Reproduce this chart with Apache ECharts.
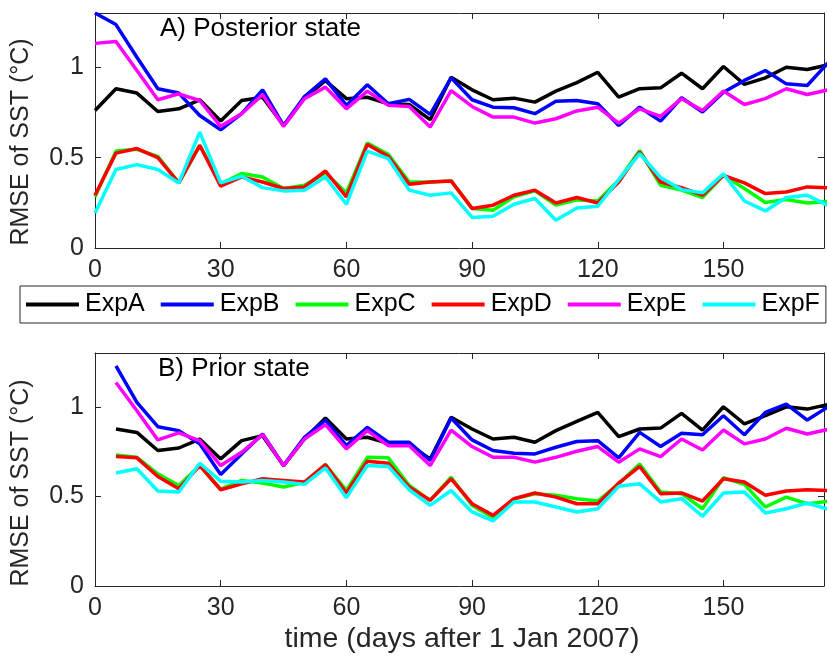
<!DOCTYPE html>
<html>
<head>
<meta charset="utf-8">
<script src="https://cdn.jsdelivr.net/npm/echarts@6/dist/echarts.min.js"></script>
<style>html,body{margin:0;padding:0;background:#fff;}#c{width:827px;height:657px;}</style>
</head>
<body>
<div id="c"></div>
<script>
var seriesNames = ['ExpA','ExpB','ExpC','ExpD','ExpE','ExpF'];
var seriesColors = ['#000000','#0000ff','#00ff00','#ff0000','#ff00ff','#00ffff'];
var xTicks = [0, 30, 60, 90, 120, 150];
var yTicks = [0, 0.5, 1];

// Panel A: posterior state
var daysA = [0,5,10,15,20,25,30,35,40,45,50,55,60,65,70,75,80,85,90,95,100,105,110,115,120,125,130,135,140,145,150,155,160,165,170,175];
var postA = [0.761,0.881,0.857,0.755,0.770,0.820,0.702,0.816,0.834,0.678,0.830,0.926,0.826,0.834,0.798,0.794,0.710,0.945,0.875,0.820,0.829,0.807,0.868,0.915,0.972,0.834,0.881,0.886,0.967,0.881,1.004,0.905,0.941,1.000,0.987,1.013];
var postB = [1.300,1.236,1.055,0.881,0.857,0.733,0.654,0.743,0.875,0.678,0.838,0.936,0.789,0.903,0.798,0.822,0.739,0.941,0.820,0.779,0.776,0.743,0.812,0.816,0.798,0.678,0.779,0.702,0.831,0.752,0.862,0.927,0.982,0.908,0.899,1.025];
var postC = [0.283,0.536,0.546,0.507,0.360,0.568,0.355,0.412,0.393,0.329,0.347,0.415,0.305,0.581,0.518,0.365,0.365,0.371,0.219,0.209,0.283,0.316,0.237,0.266,0.260,0.375,0.540,0.347,0.320,0.279,0.402,0.329,0.252,0.268,0.249,0.257];
var postD = [0.292,0.525,0.550,0.500,0.360,0.568,0.342,0.393,0.365,0.329,0.338,0.426,0.283,0.573,0.507,0.353,0.365,0.371,0.219,0.237,0.292,0.320,0.249,0.279,0.249,0.365,0.531,0.365,0.334,0.292,0.402,0.360,0.301,0.310,0.338,0.333];
var postE = [1.132,1.142,0.982,0.820,0.853,0.816,0.673,0.743,0.848,0.673,0.826,0.890,0.770,0.868,0.789,0.783,0.669,0.871,0.783,0.724,0.724,0.691,0.715,0.758,0.779,0.691,0.770,0.728,0.826,0.761,0.868,0.794,0.826,0.881,0.849,0.875];
var postF = [0.194,0.434,0.461,0.434,0.360,0.641,0.360,0.397,0.334,0.316,0.320,0.393,0.242,0.536,0.494,0.320,0.292,0.305,0.169,0.176,0.242,0.274,0.154,0.221,0.231,0.378,0.522,0.390,0.323,0.305,0.410,0.260,0.205,0.279,0.292,0.235];

// Panel B: prior state
var daysB = [5,10,15,20,25,30,35,40,45,50,55,60,65,70,75,80,85,90,95,100,105,110,115,120,125,130,135,140,145,150,155,160,165,170,175];
var priorA = [0.876,0.857,0.756,0.770,0.820,0.709,0.811,0.839,0.672,0.820,0.937,0.820,0.830,0.796,0.789,0.709,0.941,0.876,0.820,0.830,0.802,0.867,0.919,0.969,0.833,0.876,0.881,0.963,0.870,1.000,0.904,0.950,1.000,0.987,1.013];
var priorB = [1.228,1.024,0.889,0.867,0.793,0.622,0.737,0.848,0.672,0.830,0.926,0.783,0.885,0.802,0.802,0.700,0.937,0.815,0.756,0.741,0.737,0.774,0.806,0.811,0.715,0.857,0.778,0.852,0.844,0.950,0.844,0.969,1.015,0.926,1.000];
var priorC = [0.731,0.718,0.626,0.561,0.672,0.540,0.589,0.574,0.552,0.578,0.678,0.533,0.718,0.715,0.561,0.478,0.607,0.450,0.381,0.487,0.515,0.506,0.487,0.474,0.570,0.681,0.524,0.515,0.431,0.604,0.567,0.441,0.496,0.459,0.472];
var priorD = [0.722,0.715,0.611,0.543,0.672,0.537,0.570,0.598,0.589,0.580,0.678,0.519,0.696,0.685,0.552,0.478,0.598,0.459,0.394,0.487,0.519,0.496,0.459,0.459,0.574,0.667,0.515,0.519,0.474,0.598,0.580,0.506,0.530,0.537,0.532];
var priorE = [1.135,0.978,0.815,0.854,0.811,0.672,0.746,0.845,0.672,0.820,0.900,0.765,0.867,0.783,0.783,0.672,0.870,0.778,0.718,0.718,0.691,0.718,0.752,0.778,0.691,0.765,0.722,0.820,0.759,0.870,0.793,0.820,0.880,0.848,0.874];
var priorF = [0.630,0.654,0.530,0.524,0.685,0.585,0.580,0.589,0.580,0.567,0.659,0.493,0.672,0.667,0.537,0.450,0.533,0.413,0.363,0.469,0.469,0.441,0.413,0.431,0.556,0.570,0.469,0.487,0.389,0.519,0.524,0.407,0.431,0.463,0.428];

var panelTitles = ['A) Posterior state', 'B) Prior state'];
var yTitle = 'RMSE of SST (\u00B0C)';
var xTitle = 'time (days after 1 Jan 2007)';

var FONT = '"Liberation Sans", Arial, Helvetica, sans-serif';
var AX = '#262626';
var X_MAX = 174, Y_MAX = 1.3;

function pairs(xs, ys) { return xs.map(function (x, i) { return [x, ys[i]]; }); }

function xAxisDef(grid, pos, labels) {
  return {
    type: 'value', gridIndex: grid, position: pos, min: 0, max: X_MAX, interval: 30,
    axisLine: { show: true, onZero: false, lineStyle: { color: AX, width: 1 } },
    axisTick: { show: true, inside: true, length: 6, lineStyle: { color: AX } },
    axisLabel: {
      show: labels, fontSize: 25, fontFamily: FONT, color: AX, margin: 10,
      formatter: function (v) { return xTicks.indexOf(v) >= 0 ? String(v) : ''; }
    },
    splitLine: { show: false }
  };
}
function yAxisDef(grid, pos, labels) {
  return {
    type: 'value', gridIndex: grid, position: pos, min: 0, max: Y_MAX, interval: 0.5,
    axisLine: { show: true, onZero: false, lineStyle: { color: AX, width: 1 } },
    axisTick: { show: true, inside: true, length: 6, lineStyle: { color: AX } },
    axisLabel: {
      show: labels, fontSize: 25, fontFamily: FONT, color: AX, margin: 11,
      formatter: function (v) {
        for (var i = 0; i < yTicks.length; i++) if (Math.abs(yTicks[i] - v) < 1e-9) return String(yTicks[i]);
        return '';
      }
    },
    splitLine: { show: false }
  };
}

var postData = [postA, postB, postC, postD, postE, postF];
var priorData = [priorA, priorB, priorC, priorD, priorE, priorF];

var series = [];
[[daysA, postData, 0], [daysB, priorData, 1]].forEach(function (p) {
  p[1].forEach(function (vals, k) {
    series.push({
      name: seriesNames[k], type: 'line', xAxisIndex: p[2] * 2, yAxisIndex: p[2] * 2,
      data: pairs(p[0], vals), showSymbol: false, symbol: 'none', clip: true,
      lineStyle: { color: seriesColors[k], width: 3.5 }, itemStyle: { color: seriesColors[k] },
      emphasis: { disabled: true }
    });
  });
});

var chart = echarts.init(document.getElementById('c'), null, { renderer: 'canvas' });
chart.setOption({
  animation: false,
  backgroundColor: '#ffffff',
  grid: [
    { left: 95, top: 13, width: 731, height: 235 },
    { left: 95, top: 353, width: 731, height: 233 }
  ],
  xAxis: [xAxisDef(0, 'bottom', true), xAxisDef(0, 'top', false), xAxisDef(1, 'bottom', true), xAxisDef(1, 'top', false)],
  yAxis: [yAxisDef(0, 'left', true), yAxisDef(0, 'right', false), yAxisDef(1, 'left', true), yAxisDef(1, 'right', false)],
  legend: {
    data: seriesNames, left: 20, top: 286, orient: 'horizontal',
    padding: [6, 6], itemGap: 16, itemWidth: 53, itemHeight: 4, icon: 'rect',
    borderColor: AX, borderWidth: 1, backgroundColor: '#fff',
    textStyle: { fontSize: 25, fontFamily: FONT, color: '#000', padding: [0, 0, 0, 1] },
    selectedMode: false
  },
  series: series,
  graphic: [
    { type: 'text', x: 160, y: 29, style: { text: panelTitles[0], font: '26px ' + FONT, fill: '#000', align: 'left', verticalAlign: 'middle' } },
    { type: 'text', x: 158, y: 369, style: { text: panelTitles[1], font: '26px ' + FONT, fill: '#000', align: 'left', verticalAlign: 'middle' } },
    { type: 'text', x: 21, y: 142, rotation: Math.PI / 2, style: { text: yTitle, font: '25px ' + FONT, fill: AX, align: 'center', verticalAlign: 'middle' } },
    { type: 'text', x: 21, y: 483, rotation: Math.PI / 2, style: { text: yTitle, font: '25px ' + FONT, fill: AX, align: 'center', verticalAlign: 'middle' } },
    { type: 'text', x: 462, y: 639, style: { text: xTitle, font: '28.5px ' + FONT, fill: AX, align: 'center', verticalAlign: 'middle' } }
  ]
});
</script>
</body>
</html>
